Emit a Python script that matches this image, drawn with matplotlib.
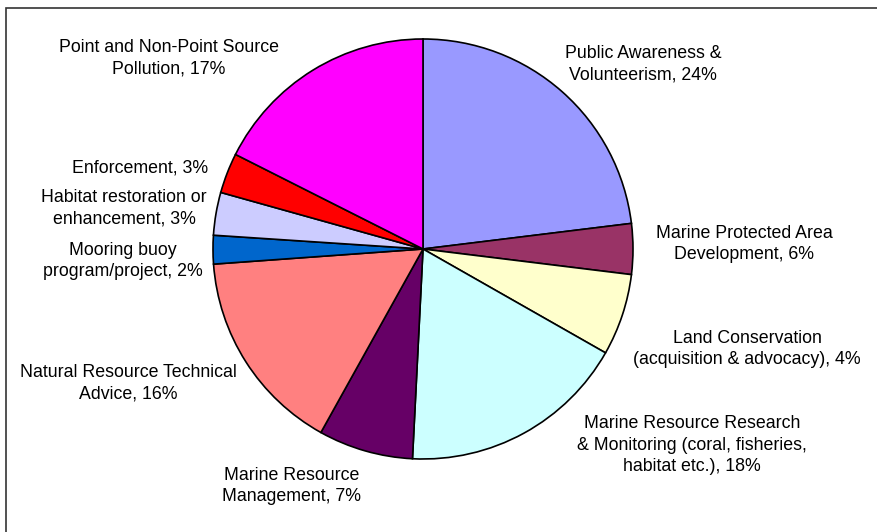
import matplotlib
matplotlib.use("Agg")
import matplotlib.pyplot as plt
from matplotlib.patches import Rectangle

# slice shares, clockwise from 12 o'clock
shares = [23.1, 3.9, 6.3, 17.6, 7.3, 15.8, 2.2, 3.3, 3.1, 17.6]
colors = ["#9999FF", "#993366", "#FFFFCC", "#CCFFFF", "#660066",
          "#FF8080", "#0066CC", "#CCCCFF", "#FF0000", "#FF00FF"]
labels = [
    "Public Awareness &\nVolunteerism, 24%",
    "Marine Protected Area\nDevelopment, 6%",
    "Land Conservation\n(acquisition & advocacy), 4%",
    "Marine Resource Research\n& Monitoring (coral, fisheries,\nhabitat etc.), 18%",
    "Marine Resource\nManagement, 7%",
    "Natural Resource Technical\nAdvice, 16%",
    "Mooring buoy\nprogram/project, 2%",
    "Habitat restoration or\nenhancement, 3%",
    "Enforcement, 3%",
    "Point and Non-Point Source\nPollution, 17%",
]
# label block centres in pixels (x from left, y from top)
label_xy = [(643, 64), (744, 244), (747, 349), (692, 445), (292, 486),
            (128, 383), (123, 261), (124, 208), (140, 168), (169, 58)]

W, H = 877, 532
fig = plt.figure(figsize=(W / 100, H / 100), dpi=100)
ax = fig.add_axes([0, 0, 1, 1])

ax.pie(shares, colors=colors, startangle=90, counterclock=False,
       center=(423, H - 249), radius=210, frame=True,
       wedgeprops=dict(edgecolor="black", linewidth=1.2))
ax.set_xlim(0, W)
ax.set_ylim(0, H)
ax.set_aspect("equal")
ax.axis("off")

# chart frame (right and bottom edges fall outside the image)
ax.add_patch(Rectangle((5.5, -10), W + 20, H - 7.5 + 10, fill=False,
                       edgecolor="#333333", linewidth=1.2))

for text, (x, y) in zip(labels, label_xy):
    ax.text(x, H - y, text, ha="center", va="center", multialignment="center",
            fontsize=12.8, family="Liberation Sans", linespacing=1.38,
            color="black")

fig.savefig("out.png", dpi=100)
